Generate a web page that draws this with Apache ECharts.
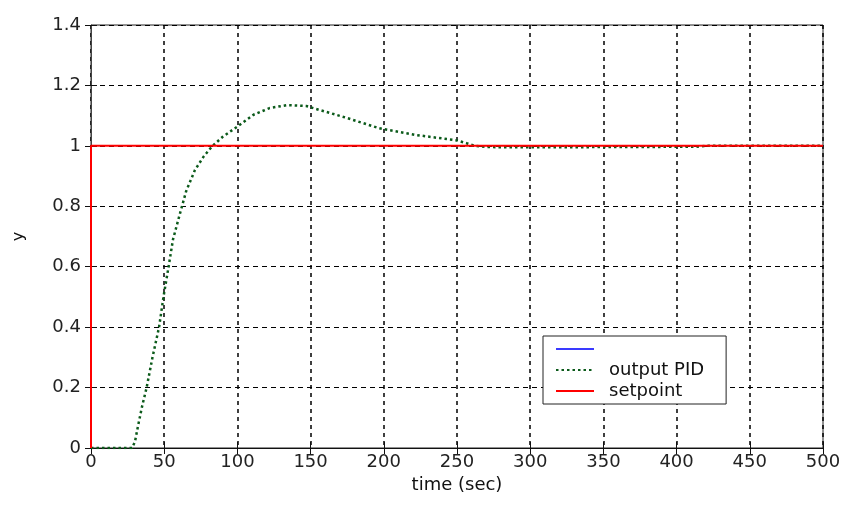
<!DOCTYPE html>
<html>
<head>
<meta charset="utf-8">
<script src="https://cdn.jsdelivr.net/npm/echarts@6/dist/echarts.min.js"></script>
<style>
  html, body { margin: 0; padding: 0; background: #fff; }
  #chart { width: 867px; height: 520px; }
</style>
</head>
<body>
<div id="chart"></div>
<script>
// PID step response
var timeSec = [0, 10, 20, 28, 30, 32, 35, 38, 42, 46.5, 49.5, 53, 56, 61, 65, 71, 77, 83, 90, 100,
  111, 122, 134, 147, 156, 175, 197, 222, 250, 257, 262, 270, 300, 350, 413, 420, 500];
var outputPID = [0, 0, 0, 0, 0.02, 0.07, 0.14, 0.2, 0.3, 0.4, 0.5, 0.6, 0.69, 0.78, 0.85, 0.92, 0.965, 1.0, 1.03, 1.064,
  1.103, 1.125, 1.135, 1.132, 1.119, 1.092, 1.058, 1.036, 1.018, 1.008, 1.0, 0.996, 0.995, 0.996, 0.997, 1.0, 1.0];

var setpointT = [0, 0, 500];
var setpointY = [0, 1, 1];

var xTicks = [0, 50, 100, 150, 200, 250, 300, 350, 400, 450, 500];
var yTicks = [0, 0.2, 0.4, 0.6, 0.8, 1, 1.2, 1.4];

function pairs(xs, ys) {
  return xs.map(function (x, i) { return [x, ys[i]]; });
}

var chart = echarts.init(document.getElementById('chart'));
var font = 'DejaVu Sans';

chart.setOption({
  animation: false,
  backgroundColor: '#fff',
  grid: {
    left: 91,
    right: 44,
    top: 25,
    bottom: 72,
    show: true,
    borderColor: '#222',
    borderWidth: 1
  },
  legend: {
    orient: 'vertical',
    left: 543,
    top: 336,
    width: 182,
    padding: [4, 22, 4, 12],
    itemWidth: 38,
    itemHeight: 14,
    itemGap: 3,
    backgroundColor: '#fff',
    borderColor: '#222',
    borderWidth: 1,
    borderRadius: 0,
    itemStyle: { opacity: 0 },
    textStyle: { fontFamily: font, fontSize: 18, lineHeight: 18, color: '#111', padding: [0, 0, 0, 10] },
    data: [' ', 'output PID', 'setpoint']
  },
  xAxis: [{
    type: 'value',
    min: 0,
    max: 500,
    interval: 50,
    name: 'time (sec)',
    nameLocation: 'middle',
    nameGap: 28,
    nameTextStyle: { fontFamily: font, fontSize: 18, color: '#111' },
    axisLine: { lineStyle: { color: '#111' } },
    axisTick: { inside: true, length: 6, lineStyle: { color: '#111' } },
    axisLabel: {
      fontFamily: font, fontSize: 18, color: '#222', margin: 5,
      formatter: function (v) { return xTicks.indexOf(v) >= 0 ? String(v) : ''; }
    },
    splitLine: { lineStyle: { color: '#000', type: [4, 4], width: 1.5 } }
  }, {
    type: 'value',
    position: 'top',
    min: 0,
    max: 500,
    interval: 50,
    axisLine: { show: false },
    axisTick: { inside: true, length: 6, lineStyle: { color: '#111' } },
    axisLabel: { show: false },
    splitLine: { show: false }
  }],
  yAxis: [{
    type: 'value',
    min: 0,
    max: 1.4,
    interval: 0.2,
    name: 'y',
    nameLocation: 'middle',
    nameGap: 64,
    nameTextStyle: { fontFamily: font, fontSize: 16, color: '#111' },
    axisLine: { show: true, lineStyle: { color: '#444' } },
    axisTick: { show: true, inside: true, length: 6, lineStyle: { color: '#111' } },
    axisLabel: {
      fontFamily: font, fontSize: 18, color: '#222', margin: 10,
      formatter: function (v) {
        var r = Math.round(v * 10) / 10;
        return yTicks.indexOf(r) >= 0 ? String(r) : '';
      }
    },
    splitLine: { lineStyle: { color: '#000', type: [5, 4], width: 1.2 } }
  }, {
    type: 'value',
    position: 'right',
    min: 0,
    max: 1.4,
    interval: 0.2,
    axisLine: { show: false },
    axisTick: { show: true, inside: true, length: 6, lineStyle: { color: '#111' } },
    axisLabel: { show: false },
    splitLine: { show: false }
  }],
  series: [{
    name: ' ',
    type: 'line',
    symbol: 'none',
    color: '#3a3aff',
    lineStyle: { color: '#3a3aff', width: 1.5 },
    data: []
  }, {
    name: 'output PID',
    type: 'line',
    symbol: 'none',
    color: '#0b5a1a',
    lineStyle: { color: '#0b5a1a', width: 2.5, type: [2.5, 3] },
    data: pairs(timeSec, outputPID),
    z: 3
  }, {
    name: 'setpoint',
    type: 'line',
    symbol: 'none',
    color: '#ff0000',
    lineStyle: { color: '#ff0000', width: 2 },
    data: pairs(setpointT, setpointY),
    z: 4
  }]
});
</script>
</body>
</html>
